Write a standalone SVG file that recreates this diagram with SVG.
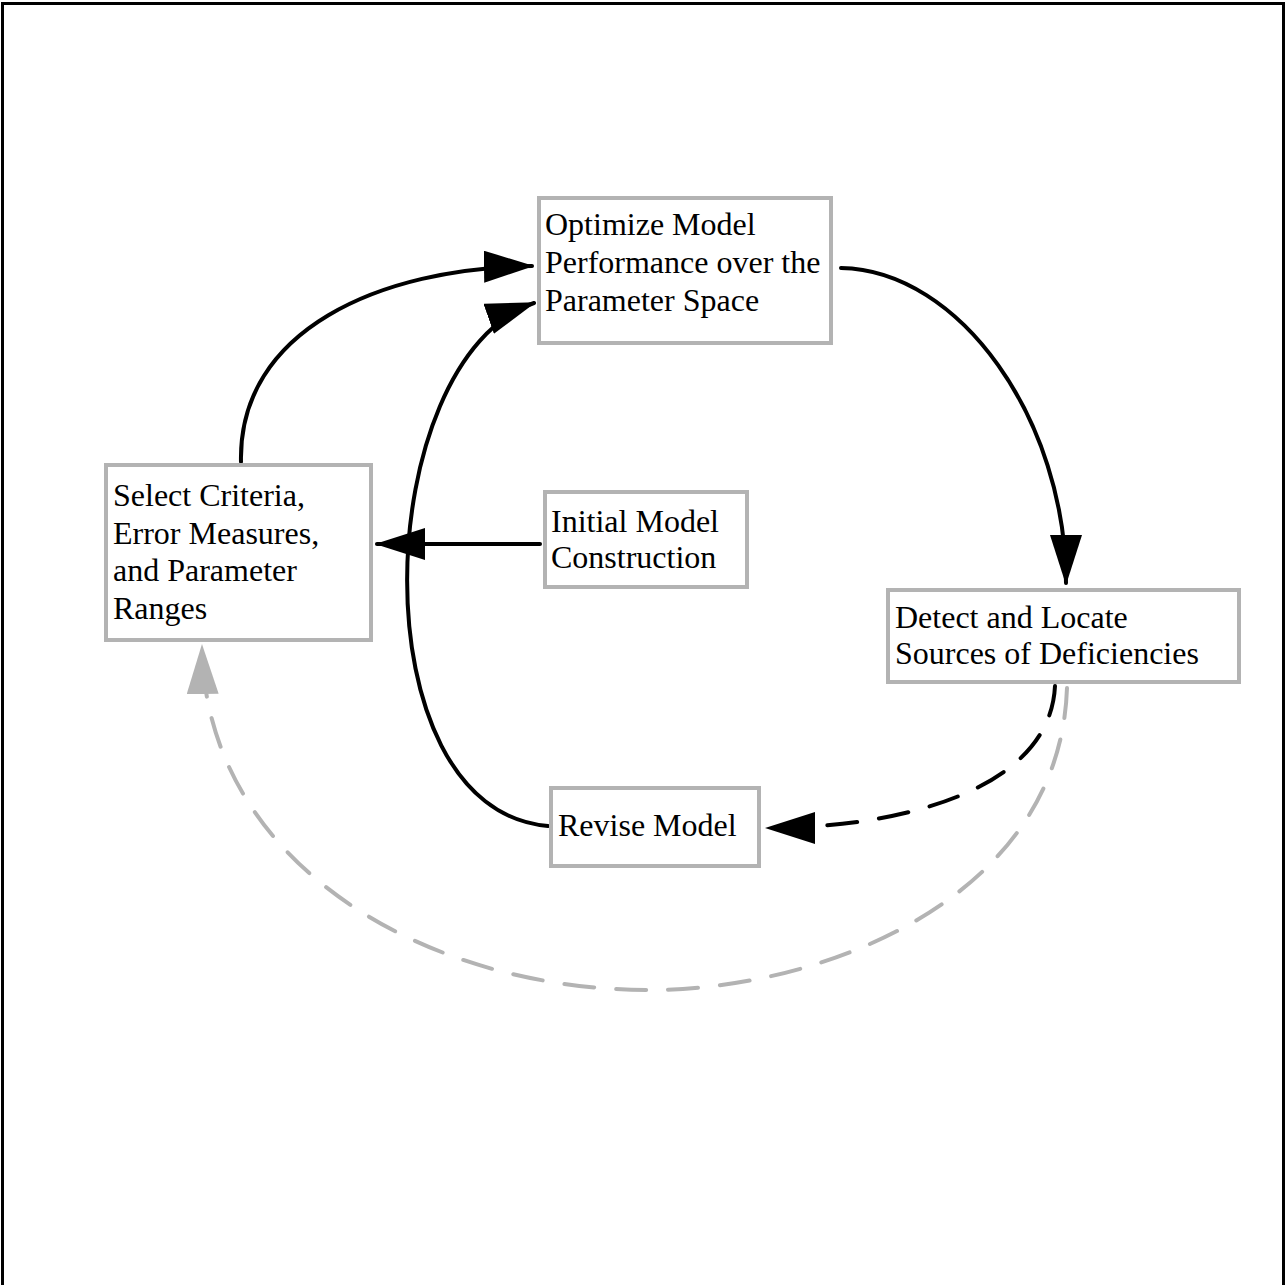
<svg xmlns="http://www.w3.org/2000/svg" width="1286" height="1285" viewBox="0 0 1286 1285">
<style>
.box{fill:#fff;stroke:#b3b3b3;stroke-width:4}
.lbl{font-family:"Liberation Serif","Times New Roman",serif;font-size:32px;fill:#000}
.c{fill:none;stroke:#000;stroke-width:4;stroke-linecap:round}
.dash{stroke-dasharray:30 22}
.gray{stroke:#b3b3b3}
</style>
<defs>
<marker id="ah" viewBox="0 0 50 32" markerWidth="50" markerHeight="32" refX="48" refY="16" orient="auto" markerUnits="userSpaceOnUse">
<path d="M0,0 L50,16 L0,32 Z" fill="#000"/>
</marker>
<marker id="ahg" viewBox="0 0 50 32" markerWidth="50" markerHeight="32" refX="48" refY="16" orient="auto" markerUnits="userSpaceOnUse">
<path d="M0,0 L50,16 L0,32 Z" fill="#b3b3b3"/>
</marker>
</defs>
<rect x="2.5" y="3.5" width="1281" height="1290" fill="#fff" stroke="#000" stroke-width="3"/>
<g id="connectors">
<path class="c" d="M241,462 C238,330 380,268 532,266" marker-end="url(#ah)"/>
<path class="c" d="M548,826 C355,810 370,360 534,303" marker-end="url(#ah)"/>
<path class="c" d="M540,544 L377,544" marker-end="url(#ah)"/>
<path class="c" d="M841,268 C960,270 1066,420 1066,583" marker-end="url(#ah)"/>
<path class="c dash" d="M1055,686 C1050,790 900,828 767,828" marker-end="url(#ah)"/>
<path class="c dash gray" d="M1067,688 C1060,900 820,990 650,990 C420,990 205,860 202,646" marker-end="url(#ahg)"/>
</g>
<g id="n-optimize">
<rect class="box" x="539" y="198" width="292" height="145"/>
<text class="lbl" x="545" y="235">Optimize Model</text>
<text class="lbl" x="545" y="273">Performance over the</text>
<text class="lbl" x="545" y="311">Parameter Space</text>
</g>
<g id="n-select">
<rect class="box" x="106" y="465" width="265" height="175"/>
<text class="lbl" x="113" y="506">Select Criteria,</text>
<text class="lbl" x="113" y="544">Error Measures,</text>
<text class="lbl" x="113" y="581">and Parameter</text>
<text class="lbl" x="113" y="619">Ranges</text>
</g>
<g id="n-initial">
<rect class="box" x="545" y="492" width="202" height="95"/>
<text class="lbl" x="551" y="532">Initial Model</text>
<text class="lbl" x="551" y="568">Construction</text>
</g>
<g id="n-detect">
<rect class="box" x="888" y="590" width="351" height="92"/>
<text class="lbl" x="895" y="628">Detect and Locate</text>
<text class="lbl" x="895" y="664">Sources of Deficiencies</text>
</g>
<g id="n-revise">
<rect class="box" x="551" y="788" width="208" height="78"/>
<text class="lbl" x="558" y="836">Revise Model</text>
</g>
</svg>
